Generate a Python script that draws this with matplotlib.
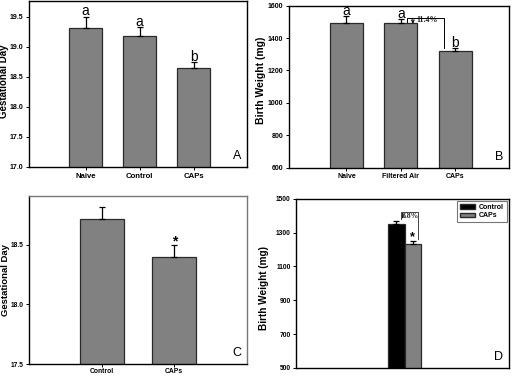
import matplotlib
matplotlib.use("Agg")
import matplotlib.pyplot as plt
from matplotlib.patches import Patch

# ---- data ----
a_cats = ["Naive", "Control", "CAPs"]
a_vals = [19.31, 19.18, 18.65]
a_err = [0.19, 0.15, 0.09]
a_sig = ["a", "a", "b"]

b_cats = ["Naive", "Filtered Air", "CAPs"]
b_vals = [1495, 1491, 1322]
b_err = [40, 27, 15]
b_sig = ["a", "a", "b"]

c_cats = ["Control", "CAPs"]
c_vals = [18.715, 18.40]
c_err = [0.10, 0.10]

d_series = ["Control", "CAPs"]
d_vals = [1351, 1233]
d_err = [20, 19]

GREY = "#818181"
EDGE = "#2a2a2a"

plt.rcParams['font.family'] = ['Liberation Sans', 'DejaVu Sans']
fig = plt.figure(figsize=(5.14, 3.76), dpi=100)

def style(ax, xfs=5.6, yfs=5.0):
    for s in ax.spines.values():
        s.set_linewidth(1.0)
        s.set_color("black")
    ax.tick_params(axis='both', length=2.5, width=0.7, pad=1.5)
    for lbl in ax.get_yticklabels():
        lbl.set_fontsize(yfs); lbl.set_fontweight('bold')
    for lbl in ax.get_xticklabels():
        lbl.set_fontsize(xfs); lbl.set_fontweight('bold')

def bars(ax, vals, err, cats):
    x = list(range(len(vals)))
    ax.bar(x, vals, width=0.61, color=GREY, edgecolor=EDGE, linewidth=0.9, zorder=2)
    ax.errorbar(x, vals, yerr=[[0]*len(vals), err], fmt='none', ecolor='black',
                elinewidth=0.9, capsize=2.2, capthick=0.9, zorder=3)
    ax.set_xticks(x)
    ax.set_xticklabels(cats)
    return x

# Panel A
axA = fig.add_axes([0.0564, 0.5559, 0.4241, 0.4402])
x = bars(axA, a_vals, a_err, a_cats)
axA.set_xlim(-1.05, 2.99)
axA.set_ylim(17.0, 19.75)
axA.set_yticks([17.0, 17.5, 18.0, 18.5, 19.0, 19.5])
axA.set_yticklabels([f"{v:.1f}" for v in [17.0, 17.5, 18.0, 18.5, 19.0, 19.5]])
axA.set_ylabel("Gestational Day", fontsize=7, fontweight='bold')
axA.yaxis.set_label_coords(-0.09, 0.52)
for xi, v, e, s in zip(x, a_vals, a_err, a_sig):
    axA.text(xi, v + e - 0.03, s, ha='center', va='bottom', fontsize=10)
axA.text(0.975, 0.03, "A", transform=axA.transAxes, ha='right', va='bottom', fontsize=9)
style(axA)

# Panel B
axB = fig.add_axes([0.5617, 0.5540, 0.4280, 0.4309])
x = bars(axB, b_vals, b_err, b_cats)
axB.set_xlim(-1.06, 2.98)
axB.set_ylim(600, 1600)
axB.set_yticks(range(600, 1601, 200))
axB.set_ylabel("Birth Weight (mg)", fontsize=7.5, fontweight='bold')
axB.yaxis.set_label_coords(-0.105, 0.54)
for xi, v, e, s in zip(x, b_vals, b_err, b_sig):
    axB.text(xi, v + e - 12, s, ha='center', va='bottom', fontsize=10)
axB.plot([1.12, 1.12, 1.79, 1.79], [1501, 1526, 1526, 1339], color='black', lw=0.7, zorder=4)
axB.annotate("", xy=(1.22, 1488), xytext=(1.22, 1522),
             arrowprops=dict(arrowstyle='->', lw=0.7, color='black', shrinkA=0, shrinkB=0,
                             mutation_scale=5))
axB.text(1.28, 1510, "11.4%", ha='left', va='center', fontsize=5.8, fontweight='bold',
         family=['Liberation Serif', 'DejaVu Serif'], color='#222222')
axB.text(0.975, 0.03, "B", transform=axB.transAxes, ha='right', va='bottom', fontsize=9)
style(axB, xfs=5.0)

# Panel C
axC = fig.add_axes([0.0570, 0.0319, 0.4230, 0.4460])
x = bars(axC, c_vals, c_err, c_cats)
axC.set_xlim(-1.0, 2.0)
axC.set_ylim(17.5, 18.905)
axC.set_yticks([17.5, 18.0, 18.5])
axC.set_yticklabels([f"{v:.1f}" for v in [17.5, 18.0, 18.5]])
axC.set_ylabel("Gestational Day", fontsize=6.8, fontweight='bold')
axC.yaxis.set_label_coords(-0.088, 0.5)
axC.text(1, c_vals[1] + c_err[1] - 0.035, "*", ha='center', va='bottom', fontsize=10, fontweight='bold')
axC.text(0.975, 0.03, "C", transform=axC.transAxes, ha='right', va='bottom', fontsize=9)
style(axC, xfs=4.9, yfs=4.8)
axC.tick_params(axis='x', pad=1.0, length=2)
for k in ['top', 'right']:
    axC.spines[k].set_color('#777777')

# Panel D
axD = fig.add_axes([0.5765, 0.0213, 0.4132, 0.4503])
w = 0.155
dx = [-w/2, w/2]
colors = ["black", GREY]
for xi, v, c in zip(dx, d_vals, colors):
    axD.bar(xi, v, width=w, color=c, edgecolor=EDGE, linewidth=0.9, zorder=2)
axD.errorbar(dx, d_vals, yerr=[[0, 0], d_err], fmt='none', ecolor='black',
             elinewidth=0.9, capsize=2.2, capthick=0.9, zorder=3)
axD.set_xlim(-1.02, 0.98)
axD.set_ylim(500, 1500)
axD.set_yticks(range(500, 1501, 200))
axD.set_xticks([])
axD.set_ylabel("Birth Weight (mg)", fontsize=7.2, fontweight='bold')
axD.yaxis.set_label_coords(-0.127, 0.47)
axD.plot([-0.038, -0.038, 0.128, 0.128], [1380, 1420, 1420, 1262], color='#444444', lw=0.7, zorder=4)
axD.annotate("", xy=(-0.02, 1382), xytext=(-0.02, 1414),
             arrowprops=dict(arrowstyle='->', lw=0.6, color='black', shrinkA=0, shrinkB=0,
                             mutation_scale=4))
axD.text(0.058, 1398, "8.8%", ha='center', va='center', fontsize=5.5, fontweight='bold',
         family=['Liberation Serif', 'DejaVu Serif'], color='#222222')
axD.text(dx[1], d_vals[1] + d_err[1] - 15, "*", ha='center', va='bottom', fontsize=9, fontweight='bold')
leg = axD.legend(handles=[Patch(facecolor='black', edgecolor=EDGE, label=d_series[0]),
                          Patch(facecolor=GREY, edgecolor=EDGE, label=d_series[1])],
                 loc='upper right', frameon=True, fancybox=False,
                 handlelength=2.2, handleheight=0.6, borderpad=0.45, labelspacing=0.2,
                 handletextpad=0.5, borderaxespad=0.3, prop={'weight': 'bold', 'size': 5})
leg.get_frame().set_edgecolor('#555555')
leg.get_frame().set_linewidth(0.8)
axD.text(0.975, 0.03, "D", transform=axD.transAxes, ha='right', va='bottom', fontsize=9)
style(axD, yfs=4.8)

fig.savefig("out.png", dpi=100)
